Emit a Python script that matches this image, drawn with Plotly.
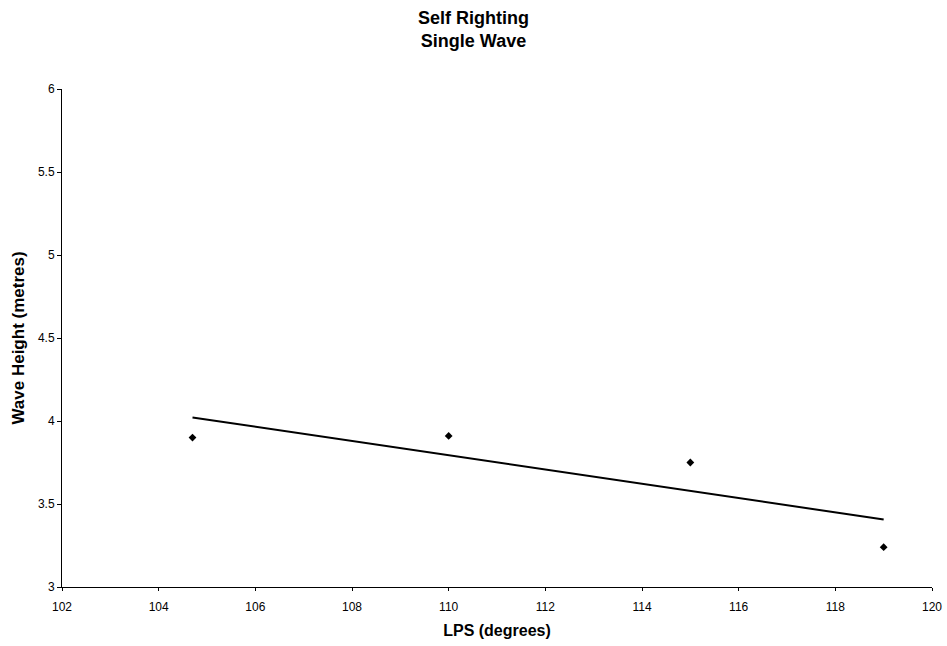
import numpy as np
import plotly.graph_objects as go

lps = [104.7, 110.0, 115.0, 119.0]
wave_height = [3.90, 3.91, 3.75, 3.24]

coef = np.polyfit(lps, wave_height, 1)
trend_x = [min(lps), max(lps)]
trend_y = [float(np.polyval(coef, v)) for v in trend_x]

fig = go.Figure()
fig.add_trace(go.Scatter(x=trend_x, y=trend_y, mode="lines",
                         line=dict(color="black", width=2), showlegend=False, hoverinfo="skip"))
fig.add_trace(go.Scatter(x=lps, y=wave_height, mode="markers",
                         marker=dict(symbol="diamond", size=6, color="black"), showlegend=False))

font = "Liberation Sans, Arial, sans-serif"
fig.update_layout(
    width=947, height=646,
    paper_bgcolor="white", plot_bgcolor="white",
    margin=dict(l=62, r=15, t=89, b=59),
    font=dict(family=font, color="black", size=12),
    xaxis=dict(range=[102, 120], dtick=2, tick0=102, showgrid=False, zeroline=False,
               showline=True, linecolor="black", linewidth=1, ticks="outside", ticklen=3,
               tickcolor="black", tickfont=dict(size=12), ticklabelstandoff=6, automargin=False,
               title=dict(text="<b>LPS (degrees)</b>", font=dict(size=16), standoff=11)),
    yaxis=dict(range=[3, 6], dtick=0.5, showgrid=False, zeroline=False, automargin=False,
               showline=True, linecolor="black", linewidth=1, ticks="outside", ticklen=4,
               tickcolor="black", tickfont=dict(size=12),
               title=dict(text="<b>Wave Height (metres)</b>", font=dict(size=17), standoff=8)),
    annotations=[dict(text="<b>Self Righting<br>Single Wave</b>", xref="paper", yref="paper",
                      x=0.473, y=1, xanchor="center", yanchor="bottom", yshift=36,
                      showarrow=False, font=dict(size=18, family=font))],
)
fig.write_html("out.html")
